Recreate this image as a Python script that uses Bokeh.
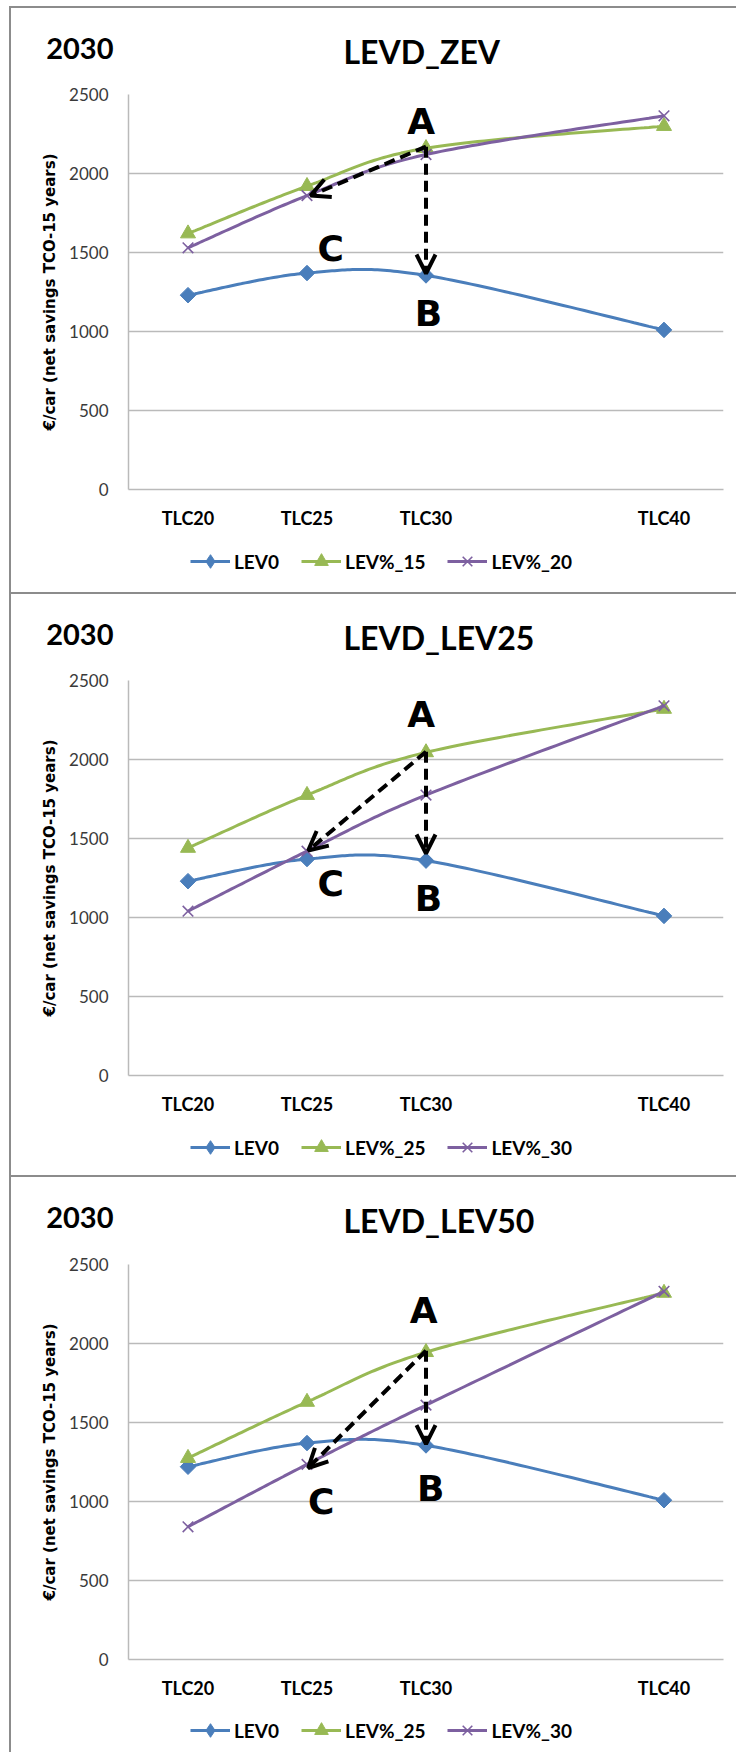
import numpy as np
from bokeh.plotting import figure
from bokeh.models import Range1d, FixedTicker, Label, Arrow, OpenHead, Legend, LegendItem, Spacer
from bokeh.layouts import column, row
from bokeh.embed import file_html
from bokeh.resources import INLINE

# ---------------- data ----------------
year = "2030"
tlc_labels = ["TLC20", "TLC25", "TLC30", "TLC40"]
tlc_x = [20, 25, 30, 40]
y_ticks = [0, 500, 1000, 1500, 2000, 2500]
y_title = "€/car (net savings TCO-15 years)"

panel_titles = ["LEVD_ZEV", "LEVD_LEV25", "LEVD_LEV50"]
series_names = [["LEV0", "LEV%_15", "LEV%_20"],
                ["LEV0", "LEV%_25", "LEV%_30"],
                ["LEV0", "LEV%_25", "LEV%_30"]]

zev_lev0 = [1230, 1370, 1355, 1010]
zev_lev15 = [1620, 1920, 2160, 2300]
zev_lev20 = [1530, 1860, 2120, 2365]

lev25_lev0 = [1230, 1370, 1360, 1010]
lev25_lev25 = [1440, 1775, 2045, 2320]
lev25_lev30 = [1040, 1420, 1775, 2340]

lev50_lev0 = [1220, 1370, 1355, 1008]
lev50_lev25 = [1275, 1630, 1945, 2320]
lev50_lev30 = [840, 1235, 1610, 2330]

panel_series = [[zev_lev0, zev_lev15, zev_lev20],
                [lev25_lev0, lev25_lev25, lev25_lev30],
                [lev50_lev0, lev50_lev25, lev50_lev30]]

# annotation letters (data coordinates) per panel
letter_A = [(29.8, 2329), (29.8, 2282), (29.9, 2208)]
letter_B = [(30.1, 1114), (30.1, 1119), (30.2, 1083)]
letter_C = [(26.0, 1525), (26.0, 1216), (25.6, 1001)]
# dashed arrows: start at A-point on TLC30, one to C, one to B
arrow_start = [(30, 2170), (30, 2049), (30, 1954)]
arrow_to_C = [(25.15, 1860), (25.05, 1424), (25.05, 1212)]
arrow_to_B = [(30, 1367), (30, 1405), (30, 1363)]

# ---------------- style / layout ----------------
colors = ["#4A7EBB", "#98B954", "#7D60A0"]
grid_col = "#bababa"
frame_col = "#8c8c8c"
X_RANGE = (17.5, 42.5)
FIG_W = 725
BL, BR = 117, 13            # left / right borders so the frame is 595 px wide
FRAME_W, FRAME_H = 595, 395
HEAD_H = 70
MAIN_BOTTOM = 50
PX_PER_X = FRAME_W / (X_RANGE[1] - X_RANGE[0])
PX_PER_Y = FRAME_H / 2500.0


def smooth(xs, ys, n=40):
    """Excel-like smoothed line (Catmull-Rom Bezier) computed in screen-ish space."""
    px = np.asarray(xs, float) * PX_PER_X
    py = np.asarray(ys, float) * PX_PER_Y
    P = np.column_stack([px, py])
    out = []
    m = len(P)
    for i in range(m - 1):
        p0 = P[i - 1] if i > 0 else P[i]
        p1, p2 = P[i], P[i + 1]
        p3 = P[i + 2] if i + 2 < m else P[i + 1]
        c1 = p1 + (p2 - p0) / 6.0
        c2 = p2 - (p3 - p1) / 6.0
        t = np.linspace(0, 1, n)[:, None]
        seg = ((1 - t) ** 3) * p1 + 3 * ((1 - t) ** 2) * t * c1 + 3 * (1 - t) * t ** 2 * c2 + t ** 3 * p2
        out.append(seg if i == 0 else seg[1:])
    S = np.vstack(out)
    return S[:, 0] / PX_PER_X, S[:, 1] / PX_PER_Y


def strip(height):
    f = figure(width=FIG_W, height=height, x_range=Range1d(0, FRAME_W), y_range=Range1d(height, 0),
               output_backend="svg", toolbar_location=None, x_axis_type=None, y_axis_type=None,
               min_border_left=BL, min_border_right=BR, min_border_top=0, min_border_bottom=0,
               outline_line_color=None, border_fill_color="white", background_fill_color="white")
    f.grid.visible = False
    return f


def make_header(i):
    h = figure(width=FIG_W, height=HEAD_H, x_range=Range1d(0, FRAME_W), y_range=Range1d(HEAD_H, 0),
               output_backend="svg", toolbar_location=None, x_axis_type=None,
               min_border_left=BL, min_border_right=BR, min_border_top=0, min_border_bottom=0,
               outline_line_color=None, border_fill_color="white", background_fill_color="white")
    h.grid.visible = False
    ya = h.yaxis[0]
    ya.ticker = FixedTicker(ticks=[40])
    ya.major_label_overrides = {40: year}
    ya.axis_line_color = None
    ya.major_tick_line_color = None
    ya.minor_tick_line_color = None
    ya.major_tick_out = 0
    ya.major_tick_in = 0
    ya.major_label_standoff = 15
    ya.major_label_text_font = "Lato"
    ya.major_label_text_font_style = "bold"
    ya.major_label_text_font_size = "29px"
    ya.major_label_text_color = "black"
    h.add_layout(Label(x=215, y=43, text=panel_titles[i], text_font="Lato", text_font_style="bold",
                       text_font_size="32px", text_baseline="middle", text_align="left",
                       text_color="black"))
    return h


def make_main(i, top):
    p = figure(width=FIG_W, height=top + FRAME_H + MAIN_BOTTOM, x_range=Range1d(*X_RANGE),
               y_range=Range1d(0, 2500), output_backend="svg", toolbar_location=None,
               min_border_left=BL, min_border_right=BR, min_border_top=top,
               min_border_bottom=MAIN_BOTTOM,
               outline_line_color=None, background_fill_color="white", border_fill_color="white")

    p.xgrid.visible = False
    p.ygrid.ticker = FixedTicker(ticks=y_ticks)
    p.ygrid.grid_line_color = grid_col
    p.ygrid.grid_line_width = 1.5

    ya = p.yaxis[0]
    ya.ticker = FixedTicker(ticks=y_ticks)
    ya.major_tick_line_color = None
    ya.minor_tick_line_color = None
    ya.major_tick_out = 0
    ya.major_tick_in = 0
    ya.axis_line_color = grid_col
    ya.axis_line_width = 1.5
    ya.major_label_text_font = "Lato"
    ya.major_label_text_font_size = "17px"
    ya.major_label_text_color = "#3a3a3a"
    ya.major_label_standoff = 20
    ya.axis_label = y_title
    ya.axis_label_text_font = "DejaVu Sans"
    ya.axis_label_text_font_style = "bold"
    ya.axis_label_text_font_size = "15px"
    ya.axis_label_text_color = "black"
    ya.axis_label_standoff = 7

    xa = p.xaxis[0]
    xa.ticker = FixedTicker(ticks=tlc_x)
    xa.major_label_overrides = {x: lab for x, lab in zip(tlc_x, tlc_labels)}
    xa.major_tick_line_color = None
    xa.minor_tick_line_color = None
    xa.major_tick_out = 0
    xa.major_tick_in = 0
    xa.axis_line_color = grid_col
    xa.axis_line_width = 1.5
    xa.major_label_text_font = "Lato"
    xa.major_label_text_font_style = "bold"
    xa.major_label_text_font_size = "18px"
    xa.major_label_text_color = "black"
    xa.major_label_standoff = 17

    markers = [("square", 11, np.pi / 4, 1), ("triangle", 15, 0, 1), ("x", 15, 0, 1.6)]
    for s, (vals, col) in enumerate(zip(panel_series[i], colors)):
        sx, sy = smooth(tlc_x, vals)
        p.line(sx, sy, line_color=col, line_width=3)
        mk, size, ang, lw = markers[s]
        p.scatter(tlc_x, vals, marker=mk, size=size, angle=ang, fill_color=col,
                  line_color=col, line_width=lw)

    # arrows
    for end in (arrow_to_C[i], arrow_to_B[i]):
        p.add_layout(Arrow(x_start=arrow_start[i][0], y_start=arrow_start[i][1],
                           x_end=end[0], y_end=end[1], line_color="black", line_width=4,
                           line_dash="11 6",
                           end=OpenHead(size=19, line_width=4, line_color="black")))
    # letters
    for txt, pos in (("A", letter_A[i]), ("B", letter_B[i]), ("C", letter_C[i])):
        p.add_layout(Label(x=pos[0], y=pos[1], text=txt, text_font="DejaVu Sans",
                           text_font_style="bold", text_font_size="36px",
                           text_align="center", text_baseline="middle", text_color="black"))
    return p


def make_footer(i, height, legend_center):
    f = strip(height)
    legend_markers = [("diamond", 1), ("triangle", 1), ("x", 1.6)]
    items = []
    nan = np.array([np.nan])
    for (mk, lw), col, name in zip(legend_markers, colors, series_names[i]):
        # legend-only renderers (no visible data in this strip)
        lr = f.line(x=nan, y=nan, line_color=col, line_width=3)
        sr = f.scatter(x=nan, y=nan, marker=mk, fill_color=col, line_color=col, line_width=lw)
        items.append(LegendItem(label=name, renderers=[lr, sr]))
    gh = 34
    leg = Legend(items=items, orientation="horizontal",
                 location=(62, height - legend_center - gh / 2),
                 glyph_width=40, glyph_height=gh, label_standoff=4, spacing=22,
                 padding=0, margin=0, border_line_color=None, background_fill_alpha=0,
                 label_text_font="Lato", label_text_font_style="bold",
                 label_text_font_size="19px", label_text_color="black")
    f.add_layout(leg)
    return f


def hline():
    return Spacer(width=FIG_W + 2, height=2, styles={"background-color": frame_col})


def vline(h):
    return Spacer(width=2, height=h, styles={"background-color": frame_col})


panel_heights = [584, 581, 575]
panel_tops = [86, 86, 87]       # panel top -> 2500 gridline
legend_centers = [553, 553, 553]

rows = []
for i in range(3):
    ph = panel_heights[i]
    top = panel_tops[i] - HEAD_H
    hdr = make_header(i)
    main = make_main(i, top)
    used = HEAD_H + top + FRAME_H + MAIN_BOTTOM
    foot = make_footer(i, ph - used, legend_centers[i] - used)
    rows.append(hline())
    rows.append(row(vline(ph), column(hdr, main, foot, spacing=0), spacing=0))

layout = column(Spacer(height=6),
                row(Spacer(width=9), column(*rows, spacing=0), spacing=0),
                spacing=0)
open("out.html", "w").write(file_html(layout, INLINE))
